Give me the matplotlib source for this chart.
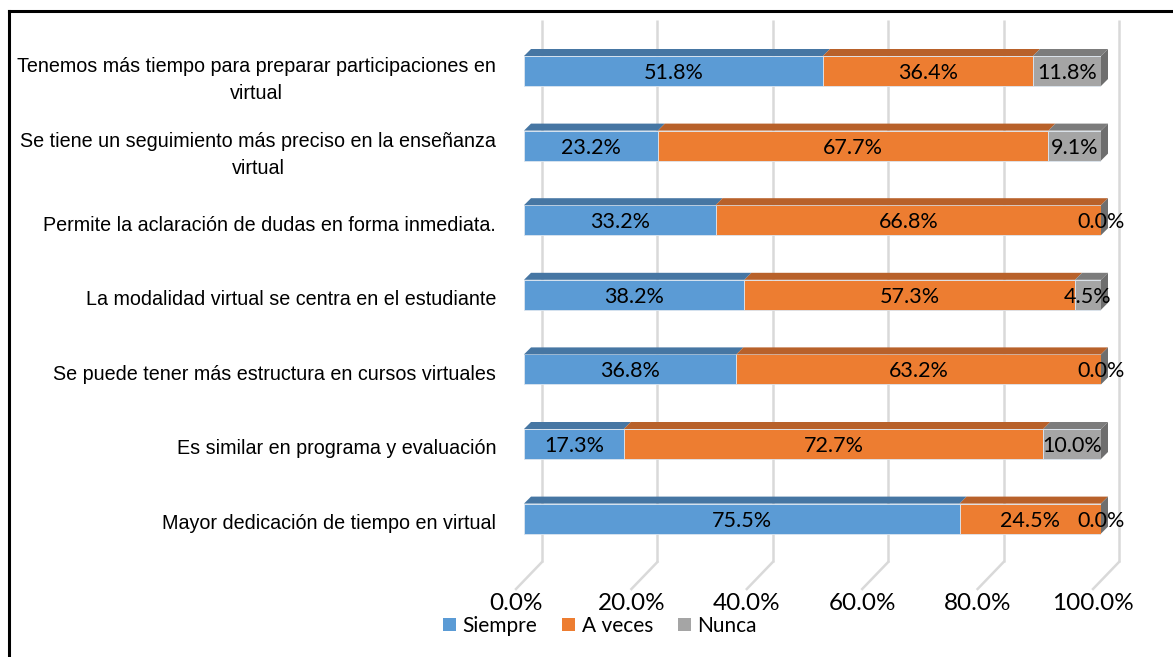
import matplotlib
matplotlib.use("Agg")
import matplotlib.pyplot as plt
from matplotlib.patches import Polygon, Patch
from matplotlib.lines import Line2D
import matplotlib.transforms as mtransforms

categories = [
    "Tenemos más tiempo para preparar participaciones en\nvirtual",
    "Se tiene un seguimiento más preciso en la enseñanza\nvirtual",
    "Permite la aclaración de dudas en forma inmediata.",
    "La modalidad virtual se centra en el estudiante",
    "Se puede tener más estructura en cursos virtuales",
    "Es similar en programa y evaluación",
    "Mayor dedicación de tiempo en virtual",
]
series_names = ["Siempre", "A veces", "Nunca"]
siempre = [51.8, 23.2, 33.2, 38.2, 36.8, 17.3, 75.5]
a_veces = [36.4, 67.7, 66.8, 57.3, 63.2, 72.7, 24.5]
nunca = [11.8, 9.1, 0.0, 4.5, 0.0, 10.0, 0.0]
xticks = [0, 20, 40, 60, 80, 100]
xtick_labels = ["0.0%", "20.0%", "40.0%", "60.0%", "80.0%", "100.0%"]

front_colors = ["#5B9BD5", "#ED7D31", "#A5A5A5"]
top_colors = ["#4676A3", "#B8612A", "#7C7C7C"]
side_color = "#6E6E6E"

W, H, DPI = 1173, 657, 100
fig = plt.figure(figsize=(W / DPI, H / DPI), dpi=DPI)

# axes geometry (pixels)
x0_px, x1_px = 524, 1101
top_px, bot_px = 20, 562
ax = fig.add_axes([x0_px / W, 1 - bot_px / H, (x1_px - x0_px) / W, (bot_px - top_px) / H])
sx = (x1_px - x0_px) / 100.0      # px per %
sy = 74.6                          # px per category
y_first = 71                       # pixel of first bar center
ax.set_xlim(0, 100)
ax.set_ylim((bot_px - y_first) / sy, (top_px - y_first) / sy)
ylo, yhi = ax.get_ylim()

bar_h = 30 / sy
depth = 7
ddx = depth / sx
ddy = depth / sy

# back-wall gridlines and floor lines
grid_tr = mtransforms.offset_copy(
    mtransforms.blended_transform_factory(ax.transData, ax.transAxes),
    fig=fig, x=18, y=0, units="dots")
for xt in xticks:
    ax.plot([xt, xt], [0, 1], transform=grid_tr, color="#D9D9D9", lw=1.8,
            zorder=0, clip_on=False, solid_capstyle="butt")
    ax.plot([xt + 18 / sx, xt - 8 / sx], [ylo, ylo + 27 / sy], color="#D9D9D9",
            lw=1.8, zorder=0, clip_on=False)

series = [siempre, a_veces, nunca]
ypos = list(range(len(categories)))
lefts = [0.0] * len(categories)
for si, vals in enumerate(series):
    ax.barh(ypos, vals, left=lefts, height=bar_h, color=front_colors[si],
            edgecolor="#DCE6F0", linewidth=0.6, zorder=3, label=series_names[si])
    for i, (v, l) in enumerate(zip(vals, lefts)):
        yt = i - bar_h / 2
        if v > 0:
            ax.add_patch(Polygon([(l, yt), (l + v, yt), (l + v + ddx, yt - ddy), (l + ddx, yt - ddy)],
                                 closed=True, facecolor=top_colors[si], edgecolor="none",
                                 zorder=3, clip_on=False))
        ax.text(l + v / 2, i, f"{v:.1f}%", ha="center", va="center", fontsize=15.5,
                family="Lato", color="black", zorder=5, clip_on=False,
                transform=mtransforms.offset_copy(ax.transData, fig=fig, x=0, y=-2, units="dots"))
    lefts = [l + v for l, v in zip(lefts, vals)]

# right side faces
for i, r in enumerate(lefts):
    yt = i - bar_h / 2
    yb = i + bar_h / 2
    ax.add_patch(Polygon([(r, yt), (r, yb), (r + ddx, yb - ddy), (r + ddx, yt - ddy)],
                         closed=True, facecolor=side_color, edgecolor="none",
                         zorder=3, clip_on=False))

for s in ax.spines.values():
    s.set_visible(False)

ax.set_yticks(ypos)
ax.set_yticklabels(categories, fontsize=14.2, family="Liberation Sans", linespacing=1.55)
ax.tick_params(axis="y", length=0, pad=20)
for lbl in ax.get_yticklabels():
    lbl.set_multialignment("center")
    off = -3
    lbl.set_transform(lbl.get_transform() + mtransforms.Affine2D().translate(0, off))

ax.set_xticks(xticks)
ax.set_xticklabels(xtick_labels, fontsize=17.5, family="Lato")
ax.tick_params(axis="x", length=0, pad=22)
for lbl in ax.get_xticklabels():
    lbl.set_transform(lbl.get_transform() + mtransforms.Affine2D().translate(-8, 0))

handles = [Patch(facecolor=c, edgecolor="none") for c in front_colors]
fig.legend(handles, series_names, loc="center", bbox_to_anchor=(600 / W, 1 - 626 / H),
           ncol=3, frameon=False, prop={"family": "Lato", "size": 15},
           handlelength=0.62, handleheight=0.62, handletextpad=0.3, columnspacing=1.2,
           borderaxespad=0, borderpad=0)

# outer frame (left and top)
fig.add_artist(Line2D([8.5 / W, 8.5 / W], [0, 1 - 11 / H], color="black", lw=2.2,
                      transform=fig.transFigure))
fig.add_artist(Line2D([8.5 / W, 1], [1 - 11 / H, 1 - 11 / H], color="black", lw=2.2,
                      transform=fig.transFigure))

fig.savefig("out.png", dpi=DPI)
